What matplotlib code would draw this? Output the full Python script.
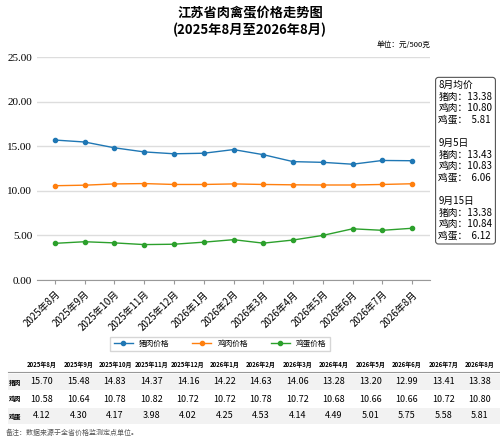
import matplotlib
matplotlib.use("Agg")
import matplotlib.pyplot as plt
from matplotlib.patches import Rectangle

plt.rcParams['font.family'] = ['Noto Sans CJK SC', 'DejaVu Sans']

months = ["2025年8月","2025年9月","2025年10月","2025年11月","2025年12月","2026年1月","2026年2月",
          "2026年3月","2026年4月","2026年5月","2026年6月","2026年7月","2026年8月"]
pork = [15.70,15.48,14.83,14.37,14.16,14.22,14.63,14.06,13.28,13.20,12.99,13.41,13.38]
chicken = [10.58,10.64,10.78,10.82,10.72,10.72,10.78,10.72,10.68,10.66,10.66,10.72,10.80]
egg = [4.12,4.30,4.17,3.98,4.02,4.25,4.53,4.14,4.49,5.01,5.75,5.58,5.81]
series = [("猪肉价格", pork, "#1f77b4"), ("鸡肉价格", chicken, "#ff7f0e"), ("鸡蛋价格", egg, "#2ca02c")]
row_names = ["猪肉", "鸡肉", "鸡蛋"]
yticks = [0, 5, 10, 15, 20, 25]

fig = plt.figure(figsize=(5, 4.46), dpi=100)
ax = fig.add_axes([0.074, 0.372, 0.786, 0.5])
x = list(range(len(months)))
for name, vals, c in series:
    ax.plot(x, vals, color=c, marker='o', markersize=3, linewidth=1, label=name)
ax.set_ylim(0, 25)
ax.set_xlim(-0.6, len(months) - 0.4)
ax.set_yticks(yticks)
ax.set_yticklabels([f"{v:.2f}" for v in yticks], fontsize=8, family=['Liberation Serif', 'DejaVu Serif'])
ax.set_xticks(x)
ax.set_xticklabels(months, rotation=45, ha='right', rotation_mode='anchor', fontsize=7)
ax.grid(axis='y', color='#dddddd', linewidth=1)
for s in ['top', 'right', 'left']:
    ax.spines[s].set_visible(False)
ax.spines['bottom'].set_color('#999999')
ax.tick_params(axis='y', length=0)
ax.tick_params(axis='x', length=3, color='#999999')

fig.text(0.5, 0.985, "江苏省肉禽蛋价格走势图", ha='center', va='top', fontsize=9.5, fontweight='bold')
fig.text(0.5, 0.95, "(2025年8月至2026年8月)", ha='center', va='top', fontsize=9.5, fontweight='bold')
fig.text(0.86, 0.9, "单位：元/500克", ha='right', va='center', fontsize=5.5)

box = ("8月均价\n猪肉：13.38\n鸡肉：10.80\n鸡蛋：  5.81\n\n"
       "9月5日\n猪肉：13.43\n鸡肉：10.83\n鸡蛋：  6.06\n\n"
       "9月15日\n猪肉：13.38\n鸡肉：10.84\n鸡蛋：  6.12")
fig.text(0.877, 0.82, box, ha='left', va='top', fontsize=7, linespacing=1.2,
         bbox=dict(boxstyle='round,pad=0.3', fc='white', ec='#555555', lw=0.8))

fig.legend(loc='center', bbox_to_anchor=(0.44, 0.229), ncol=3, fontsize=5.5, frameon=True,
           edgecolor='#cccccc', fancybox=False, handlelength=2.5, columnspacing=3)

# table
col_x = [(42 + i * (480 - 42) / 12) / 500 for i in range(13)]
row_y = [1 - 382/446, 1 - 399/446, 1 - 416/446]
hy = 1 - 365/446
for i, m in enumerate(months):
    fig.text(col_x[i], hy, m, ha='center', va='center', fontsize=4.3, fontweight='bold')
fig.add_artist(plt.Line2D([0.015, 1.0], [1 - 372/446]*2, color='#999999', lw=0.8, transform=fig.transFigure))
for r, (nm, vals) in enumerate(zip(row_names, [pork, chicken, egg])):
    if r != 1:
        fig.add_artist(Rectangle((0.015, row_y[r] - 8/446), 0.985, 16/446, transform=fig.transFigure,
                                 fc='#f2f2f2', ec='none', zorder=0))
    fig.text(0.018, row_y[r], nm, ha='left', va='center', fontsize=4.5, fontweight='bold')
    for i, v in enumerate(vals):
        fig.text(col_x[i], row_y[r], f"{v:.2f}", ha='center', va='center', fontsize=6.5)
fig.text(0.012, 1 - 433/446, "备注：数据来源于全省价格监测定点单位。", ha='left', va='center', fontsize=5, color='#555555')

fig.savefig("out.png", dpi=100)
